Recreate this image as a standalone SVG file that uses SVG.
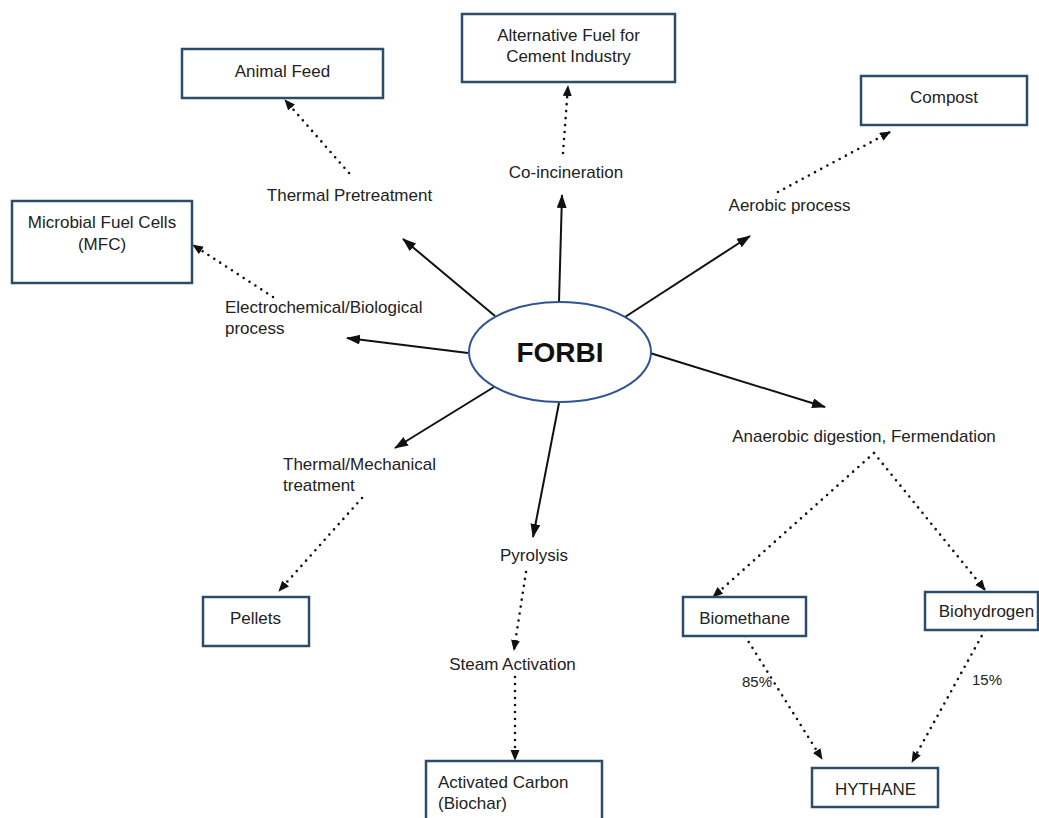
<svg xmlns="http://www.w3.org/2000/svg" width="1039" height="818" viewBox="0 0 1039 818">
<defs>
<style>
.box{fill:#fff;stroke:#2d4b6b;stroke-width:2.5}
.t{font-family:"Liberation Sans",Arial,sans-serif;font-size:17px;fill:#222}
.tm{text-anchor:middle}
.solid{stroke:#111;stroke-width:2;fill:none;marker-end:url(#ah)}
.dot{stroke:#111;stroke-width:2.6;fill:none;stroke-linecap:round;stroke-dasharray:0 7;marker-end:url(#dh)}
</style>
<marker id="ah" markerUnits="userSpaceOnUse" markerWidth="15" markerHeight="11" refX="13" refY="5" orient="auto"><path d="M0,0 L14,5 L0,10 z" fill="#111"/></marker>
<marker id="dh" markerUnits="userSpaceOnUse" markerWidth="13" markerHeight="11" refX="10" refY="4.5" orient="auto"><path d="M0,0 L11,4.5 L0,9 z" fill="#111"/></marker>
</defs>
<rect width="1039" height="818" fill="#fff"/>
<g id="connectors">
<line class="solid" x1="495" y1="316" x2="403" y2="239"/>
<line class="solid" x1="559" y1="302" x2="562" y2="195"/>
<line class="solid" x1="625" y1="317" x2="750" y2="236"/>
<line class="solid" x1="468" y1="353" x2="347" y2="338"/>
<line class="solid" x1="494" y1="387" x2="395" y2="448"/>
<line class="solid" x1="559" y1="403" x2="533" y2="537"/>
<line class="solid" x1="650" y1="353" x2="825" y2="407"/>
<line class="dot" x1="349" y1="173" x2="285" y2="100"/>
<line class="dot" x1="563" y1="153" x2="568" y2="86"/>
<line class="dot" x1="778" y1="192" x2="890" y2="132"/>
<line class="dot" x1="273" y1="297" x2="193" y2="245"/>
<line class="dot" x1="362" y1="498" x2="279" y2="591"/>
<line class="dot" x1="526" y1="572" x2="514" y2="650"/>
<line class="dot" x1="515" y1="677" x2="515" y2="760"/>
<line class="dot" x1="874" y1="453" x2="713" y2="597"/>
<line class="dot" x1="874" y1="453" x2="985" y2="590"/>
<line class="dot" x1="745" y1="636" x2="822" y2="759"/>
<line class="dot" x1="985" y1="630" x2="912" y2="762"/>
</g>
<g id="forbi">
<ellipse cx="560" cy="352" rx="91" ry="50" fill="#fff" stroke="#2f5496" stroke-width="2"/>
<text class="t tm" x="560" y="362" style="font-size:28px;font-weight:bold;fill:#111">FORBI</text>
</g>
<g id="animal-feed"><rect class="box" x="182" y="49" width="201" height="49"/><text class="t tm" x="282.5" y="77">Animal Feed</text></g>
<g id="alt-fuel"><rect class="box" x="462" y="14" width="213" height="68"/><text class="t tm" x="568.5" y="41">Alternative Fuel for</text><text class="t tm" x="568.5" y="62">Cement Industry</text></g>
<g id="compost"><rect class="box" x="861" y="76" width="166" height="49"/><text class="t tm" x="944" y="103">Compost</text></g>
<g id="mfc"><rect class="box" x="12" y="201" width="180" height="82"/><text class="t tm" x="102" y="228">Microbial Fuel Cells</text><text class="t tm" x="102" y="250">(MFC)</text></g>
<g id="pellets"><rect class="box" x="203" y="597" width="106" height="49"/><text class="t tm" x="255.5" y="624">Pellets</text></g>
<g id="activated-carbon"><rect class="box" x="426" y="761" width="176" height="70"/><text class="t" x="438" y="788">Activated Carbon</text><text class="t" x="438" y="809">(Biochar)</text></g>
<g id="biomethane"><rect class="box" x="683" y="597" width="123" height="39"/><text class="t tm" x="744.5" y="624">Biomethane</text></g>
<g id="biohydrogen"><rect class="box" x="925" y="592" width="113" height="38"/><text class="t tm" x="986.5" y="617">Biohydrogen</text></g>
<g id="hythane"><rect class="box" x="812" y="768" width="126" height="39"/><text class="t tm" x="875.5" y="795">HYTHANE</text></g>
<g id="thermal-pretreatment"><text class="t tm" x="349.5" y="201">Thermal Pretreatment</text></g>
<g id="co-incineration"><text class="t tm" x="566" y="178">Co-incineration</text></g>
<g id="aerobic"><text class="t tm" x="789.5" y="211">Aerobic process</text></g>
<g id="electrochemical"><text class="t" x="225" y="313">Electrochemical/Biological</text><text class="t" x="225" y="334">process</text></g>
<g id="thermal-mechanical"><text class="t" x="283" y="470">Thermal/Mechanical</text><text class="t" x="283" y="491">treatment</text></g>
<g id="anaerobic"><text class="t tm" x="864" y="442">Anaerobic digestion, Fermendation</text></g>
<g id="pyrolysis"><text class="t tm" x="534" y="561">Pyrolysis</text></g>
<g id="steam"><text class="t tm" x="512.5" y="670">Steam Activation</text></g>
<g id="pct"><text class="t" x="742" y="687" style="font-size:15px">85%</text><text class="t" x="972" y="685" style="font-size:15px">15%</text></g>
</svg>
